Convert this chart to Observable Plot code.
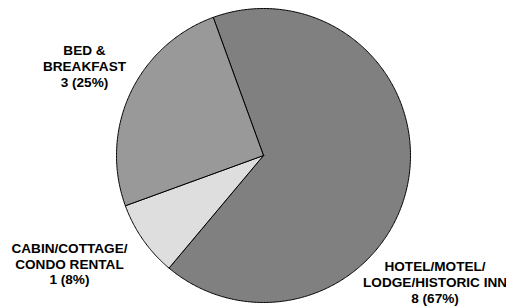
<!DOCTYPE html>
<html>
<head>
<meta charset="utf-8">
<script src="https://cdn.jsdelivr.net/npm/d3@7"></script>
<script src="https://cdn.jsdelivr.net/npm/@observablehq/plot@0.6"></script>
<style>
  html, body { margin: 0; padding: 0; background: #fff; }
  #chart { width: 506px; height: 307px; }
</style>
</head>
<body>
<div id="chart"></div>
<script>
// ---- data ----
const categories = ["HOTEL/MOTEL/\nLODGE/HISTORIC INN", "CABIN/COTTAGE/\nCONDO RENTAL", "BED &\nBREAKFAST"];
const counts = [8, 1, 3];
const percents = ["67%", "8%", "25%"];
const colors = ["#808080", "#dedede", "#999999"];

// ---- layout ----
const W = 506, H = 307;
const cx = 263, cy = 155, R = 147;
const startAngle = -20 * Math.PI / 180; // clockwise from 12 o'clock
// label anchor points relative to the pie (unit radius), per slice
const labelAt = [[1.167, -0.861], [-1.32, -0.735], [-1.218, 0.609]];

const pie = d3.pie().sort(null).startAngle(startAngle).endAngle(startAngle + 2 * Math.PI)(counts);

// slice outlines in unit coordinates (x = sin a, y = cos a)
const slicePts = [];
pie.forEach((p, i) => {
  const n = Math.max(2, Math.ceil((p.endAngle - p.startAngle) / 0.01));
  slicePts.push({i, x: 0, y: 0});
  for (let k = 0; k <= n; k++) {
    const a = p.startAngle + (p.endAngle - p.startAngle) * k / n;
    slicePts.push({i, x: Math.sin(a), y: Math.cos(a)});
  }
  slicePts.push({i, x: 0, y: 0});
});

const labels = categories.map((c, i) => ({
  text: `${c}\n${counts[i]} (${percents[i]})`,
  x: labelAt[i][0], y: labelAt[i][1]
}));

const plot = Plot.plot({
  width: W, height: H,
  marginLeft: cx - R, marginRight: W - (cx + R),
  marginTop: cy - R, marginBottom: H - (cy + R),
  x: {domain: [-1, 1], axis: null},
  y: {domain: [-1, 1], axis: null},
  style: {background: "#fff", overflow: "visible"},
  marks: [
    Plot.line(slicePts, {
      x: "x", y: "y", z: "i",
      fill: d => colors[d.i],
      stroke: "#000", strokeWidth: 1, strokeLinejoin: "miter", curve: "linear-closed"
    }),
    Plot.text(labels, {
      x: "x", y: "y", text: "text",
      fontSize: 13.6, fontWeight: "bold", lineHeight: 1.15,
      fontFamily: "'Liberation Sans', Arial, sans-serif",
      fill: "#000", textAnchor: "middle", lineAnchor: "middle"
    })
  ]
});
document.getElementById("chart").appendChild(plot);
</script>
</body>
</html>
